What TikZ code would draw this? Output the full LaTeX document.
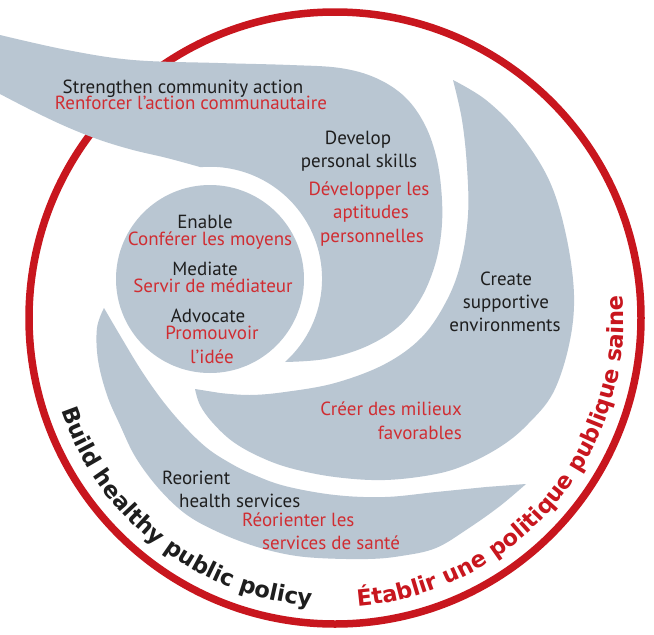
\documentclass[tikz,border=0pt]{standalone}
\usepackage{fontspec}
\setmainfont{PT Sans}
\newfontfamily\curvefont{DejaVu Sans}
\usetikzlibrary{decorations.text}
\definecolor{swgray}{RGB}{185,198,210}
\definecolor{circred}{RGB}{200,22,30}
\definecolor{txtred}{RGB}{208,45,50}
\definecolor{txtblack}{RGB}{30,30,30}
\newcommand{\curvestyle}{\curvefont\bfseries\fontsize{22.5}{22.5}\selectfont}
\begin{document}
\begin{tikzpicture}[x=1pt,y=1pt,
  en/.style={font=\fontsize{19}{19}\selectfont, text=txtblack, inner sep=0pt, anchor=base},
  fr/.style={en, text=txtred}]
\useasboundingbox (0,0) rectangle (654,-635);
\fill[white] (0,0) rectangle (654,-635);
\coordinate (ctr) at (335,-318);
\draw[circred, line width=7.5pt] (ctr) circle[radius=306];
% inner circle
\fill[swgray] (210,-279) circle[radius=94];
% shape A : strengthen + develop
\fill[swgray] plot[smooth, tension=0.6] coordinates {(0,-35) (67,-50) (133,-60) (218,-63) (290,-65) (340,-68) (376,-78) (405,-97) (425,-125) (437,-160) (442,-200) (441,-235) (434,-268) (420,-300) (398,-327) (365,-347) (325,-359) (285,-362)}
  arc[start angle=-48, end angle=95, radius=112]
  -- plot[smooth, tension=0.6] coordinates {(200,-167) (167,-158) (133,-150) (100,-140) (67,-127) (33,-111) (0,-94)} -- cycle;
% shape B : create supportive environments
\fill[swgray] plot[smooth, tension=0.6] coordinates {(453,-80) (486,-100) (519,-133) (549,-180) (566,-235) (574,-295) (569,-345) (553,-393) (528,-424) (503,-445) (470,-463) (436,-474) (385,-480) (335,-477) (290,-468) (258,-456) (232,-441) (212,-422) (200,-405) (195,-389)}
  -- plot[smooth, tension=0.6] coordinates {(220,-393) (250,-395) (285,-392) (335,-383) (385,-364) (422,-337) (447,-300) (461,-262) (468,-215) (467,-167) (462,-120) (453,-80)} -- cycle;
% shape C : reorient health services
\fill[swgray] plot[smooth, tension=0.6] coordinates {(104,-308) (97,-328) (98,-360) (107,-395) (120,-425) (136,-458) (160,-490) (187,-515) (218,-532) (251,-545) (285,-554) (318,-558) (368,-559) (401,-556) (436,-548) (469,-528) (500,-506) (526,-484)}
  -- plot[smooth, tension=0.6] coordinates {(486,-487) (436,-492) (385,-497) (335,-495) (285,-486) (252,-474) (230,-463) (207,-448) (184,-426) (162,-400) (141,-370) (121,-337) (104,-308)} -- cycle;
% texts
\node[en] (t1) at (183,-93) {Strengthen community action};
\node[fr] (t2) at (191,-109) {Renforcer l’action communautaire};
\node[en] (t3) at (358,-144) {Develop};
\node[en] (t4) at (359,-167) {personal skills};
\node[fr] (t5) at (369,-195) {Développer les};
\node[fr] (t6) at (371,-218) {aptitudes};
\node[fr] (t7) at (372,-242) {personnelles};
\node[en] (t8) at (205,-228) {Enable};
\node[fr] (t9) at (210,-245) {Conférer les moyens};
\node[en] (t10) at (205,-275) {Mediate};
\node[fr] (t11) at (213,-292) {Servir de médiateur};
\node[en] (t12) at (208,-322) {Advocate};
\node[fr] (t13) at (212,-339) {Promouvoir};
\node[fr] (t14) at (212,-363) {l’idée};
\node[en] (t15) at (506,-285) {Create};
\node[en] (t16) at (506,-308) {supportive};
\node[en] (t17) at (505,-331) {environments};
\node[fr, anchor=base east] (t18) at (462,-415) {Créer des milieux};
\node[fr, anchor=base east] (t19) at (462,-439) {favorables};
\node[en, anchor=base west] (t20) at (162,-484) {Reorient};
\node[en, anchor=base west] (t21) at (179,-507) {health services};
\node[fr, anchor=base west] (t22) at (242,-526) {Réorienter les};
\node[fr, anchor=base west] (t23) at (262,-549) {services de santé};
% curved texts
\path[decorate, decoration={text along path, text align=center,
  text={|\curvestyle\color{txtblack}|Build healthy public policy}}]
  ([shift={(182:289)}]ctr) arc[start angle=182, end angle=282, radius=289];
\path[decorate, decoration={text along path, text align=center,
  text={|\curvestyle\color{circred}|Établir une politique publique saine}}]
  ([shift={(249.5:289)}]ctr) arc[start angle=249.5, end angle=389.5, radius=289];
\end{tikzpicture}
\end{document}
